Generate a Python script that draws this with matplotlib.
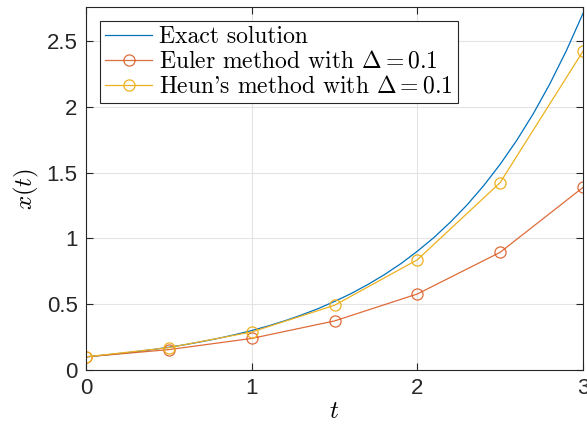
import matplotlib
matplotlib.use("Agg")
import matplotlib.pyplot as plt

t_exact = [0.0, 0.1, 0.2, 0.3, 0.4, 0.5, 0.6, 0.7, 0.8, 0.9, 1.0,
           1.1, 1.2, 1.3, 1.4, 1.5, 1.6, 1.7, 1.8, 1.9, 2.0,
           2.1, 2.2, 2.3, 2.4, 2.5, 2.6, 2.7, 2.8, 2.9, 3.0]
x_exact = [0.100, 0.112, 0.125, 0.139, 0.155, 0.173, 0.193, 0.216, 0.241, 0.269, 0.300,
           0.335, 0.374, 0.418, 0.466, 0.521, 0.581, 0.649, 0.724, 0.808, 0.903,
           1.007, 1.125, 1.255, 1.401, 1.564, 1.746, 1.949, 2.176, 2.429, 2.711]
t_steps = [0.0, 0.5, 1.0, 1.5, 2.0, 2.5, 3.0]
x_euler = [0.100, 0.155, 0.240, 0.373, 0.578, 0.895, 1.388]
x_heun = [0.100, 0.170, 0.289, 0.492, 0.838, 1.425, 2.424]

labels = ["Exact solution", r"Euler method with $\Delta = 0.1$",
          r"Heun's method with $\Delta = 0.1$"]

plt.rcParams['mathtext.fontset'] = 'cm'
plt.rcParams['axes.unicode_minus'] = False

fig = plt.figure(figsize=(5.87, 4.29), dpi=100)
ax = fig.add_axes([86/587, 1 - 370/429, (583-86)/587, (370-7)/429])

c_exact = '#0072BD'
c_euler = '#D95319'
c_heun = '#EDB120'

ax.plot(t_exact, x_exact, color=c_exact, lw=0.9, label=labels[0])
ax.plot(t_steps, x_euler, color=c_euler, lw=0.9, marker='o', ms=8,
        mfc='none', mew=0.9, label=labels[1], alpha=0.85)
ax.plot(t_steps, x_heun, color=c_heun, lw=0.9, marker='o', ms=8,
        mfc='none', mew=0.9, label=labels[2])

ax.set_xlim(0, 3)
ax.set_ylim(0, 2.76)
ax.set_xticks([0, 1, 2, 3])
ax.set_yticks([0, 0.5, 1, 1.5, 2, 2.5])
ax.set_xticklabels(['0', '1', '2', '3'])
ax.set_yticklabels(['0', '0.5', '1', '1.5', '2', '2.5'])
ax.grid(True, color='#E3E3E3', lw=0.8)
ax.set_axisbelow(True)
ax.tick_params(direction='in', top=True, right=True, length=5, width=0.8,
               labelsize=16, colors='#262626', pad=6)
for lab in ax.get_xticklabels() + ax.get_yticklabels():
    lab.set_family('Liberation Sans')
for s in ax.spines.values():
    s.set_color('#262626')
    s.set_linewidth(0.8)

ax.set_xlabel(r'$t$', fontsize=18, labelpad=0)
ax.set_ylabel(r'$x(t)$', fontsize=18, labelpad=4)

leg = ax.legend(loc='upper left', prop={'family': 'cmr10', 'size': 17},
                fancybox=False, edgecolor='#262626', framealpha=1,
                handlelength=2.0, handletextpad=0.3, borderpad=0.2,
                labelspacing=0.12, borderaxespad=0.6)
leg.get_frame().set_linewidth(0.8)

fig.savefig('out.png', dpi=100)
